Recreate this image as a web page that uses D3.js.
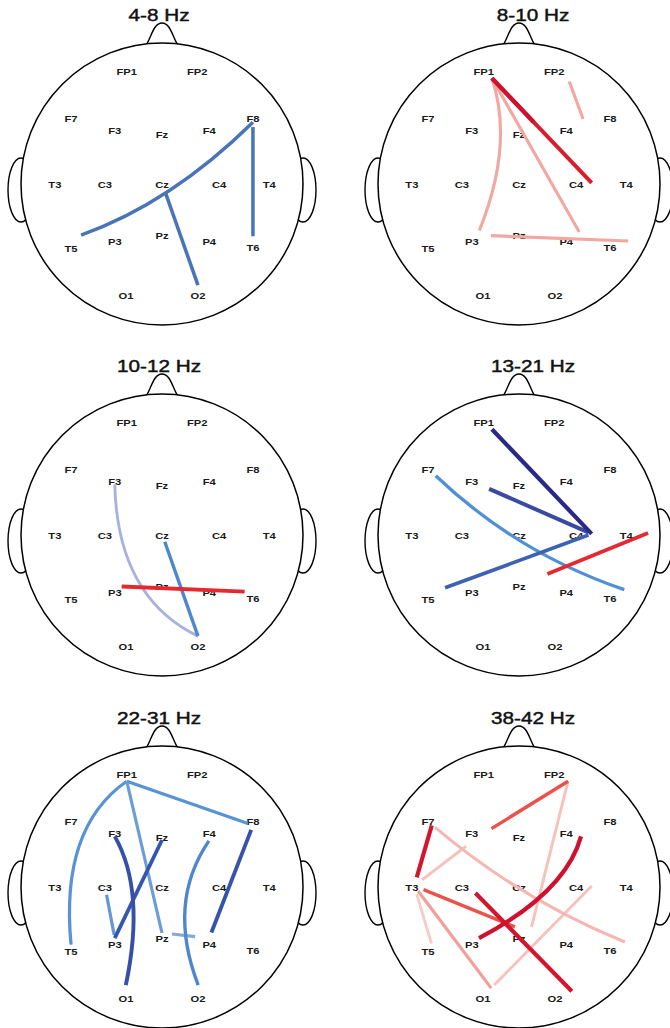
<!DOCTYPE html>
<html>
<head>
<meta charset="utf-8">
<script src="https://cdn.jsdelivr.net/npm/d3@7"></script>
<style>
  body { margin: 0; background: #fff; }
  svg { display: block; font-family: "Liberation Sans", Arial, sans-serif; }
</style>
</head>
<body>
<svg id="chart" width="670" height="1028"></svg>
<script>
// frequency bands, one head map each
const bands = ["4-8 Hz", "8-10 Hz", "10-12 Hz", "13-21 Hz", "22-31 Hz", "38-42 Hz"];

// 10-20 electrodes, in head-radius units (0,0 = centre of head)
const electrodes = ["FP1", "FP2", "F7", "F3", "Fz", "F4", "F8", "T3", "C3", "Cz", "C4", "T4", "T5", "P3", "Pz", "P4", "T6", "O1", "O2"];
const elecX = [-0.25, 0.25, -0.645, -0.335, 0, 0.335, 0.645, -0.76, -0.405, 0, 0.405, 0.76, -0.645, -0.335, 0, 0.335, 0.645, -0.255, 0.255];
const elecY = [-0.80, -0.80, -0.46, -0.375, -0.347, -0.375, -0.46, 0.007, 0.007, 0.007, 0.007, 0.007, 0.46, 0.41, 0.37, 0.41, 0.455, 0.795, 0.795];

// connections: [from, to, value]  (value < 0 blue, > 0 red)
const links_4_8 = [["T5", "F8", -0.55], ["F8", "T6", -0.55], ["Cz", "O2", -0.55]];
const links_8_10 = [["FP1", "P3", 0.3], ["FP1", "P4", 0.3], ["FP2", "T6", 0.3], ["P3", "T6", 0.3], ["FP1", "C4", 0.85], ["FP1", "C4", 1.0]];
const links_10_12 = [["F3", "O2", -0.1], ["Cz", "O2", -0.45], ["P3", "T6", 0.75]];
const links_13_21 = [["F7", "T6", -0.4], ["T5", "C4", -0.65], ["F3", "C4", -0.85], ["FP1", "C4", -1], ["Pz", "T4", 0.75]];
const links_22_31 = [["FP1", "F8", -0.38], ["FP1", "T5", -0.38], ["FP1", "Pz", -0.32], ["C3", "P3", -0.35], ["Pz", "P4", -0.25],
                     ["F4", "O2", -0.45], ["Fz", "P3", -0.72], ["F3", "O1", -0.8], ["F8", "P4", -0.75]];
const links_38_42 = [["T3", "T5", 0.1], ["FP2", "Pz", 0.15], ["T3", "F3", 0.15], ["O1", "C4", 0.15], ["F7", "T6", 0.2], ["T3", "O1", 0.35],
                     ["FP2", "F3", 0.5], ["T3", "Pz", 0.5], ["F7", "T3", 0.95], ["C3", "O2", 0.95], ["P3", "F4", 1.0]];
const linkSets = [links_4_8, links_8_10, links_10_12, links_13_21, links_22_31, links_38_42];

// how each line is drawn: t = part of the chord that is drawn, bend = bow (fraction of length)
const shapes = {
  "4-8 Hz": { "T5-F8": { t: [0.055, 1], bend: 0.055, at: 0.45 }, "F8-T6": { t: [0.04, 0.96] }, "Cz-O2": { t: [0.1, 1] } },
  "8-10 Hz": { "FP1-P3": { t: [0, 0.97], bend: -0.09, at: 0.42 }, "FP1-P4": { t: [0, 0.98] }, "FP2-T6": { t: [0.02, 0.25] },
               "P3-T6": { t: [0.08, 1] }, "FP1-C4#2": { t: [0, 0.42] } },
  "10-12 Hz": { "F3-O2": { bend: 0.15, at: 0.58 }, "Cz-O2": { t: [0.077, 1] }, "P3-T6": { t: [0.05, 0.94] } },
  "13-21 Hz": { "F7-T6": { t: [0.02, 0.98], bend: 0.055 }, "T5-C4": { t: [0.083, 0.98] }, "F3-C4": { t: [0.09, 0.97] }, "Pz-T4": { t: [0.15, 1.02] } },
  "22-31 Hz": { "FP1-F8": { t: [0, 0.96] }, "FP1-T5": { bend: 0.14, at: 0.38 }, "C3-P3": { t: [0.17, 0.94] }, "Pz-P4": { t: [0.21, 0.7] },
                "F4-O2": { t: [0.03, 0.98], bend: 0.13, at: 0.45 }, "F3-O1": { t: [0, 0.98], bend: -0.09, at: 0.38 }, "F8-P4": { t: [0.04, 0.95] } },
  "38-42 Hz": { "FP2-F3": { t: [0, 0.86] }, "FP2-Pz": { t: [0, 0.96] }, "F7-T3": { t: [0, 0.86] }, "F7-T6": { t: [0.017, 0.983], bend: 0.04 },
                "T3-F3": { t: [0.12, 0.8] }, "T3-Pz": { t: [0.08, 0.87] }, "C3-O2": { t: [0.07, 1.03] }, "P3-F4": { bend: 0.1, at: 0.65 },
                "T3-T5": { t: [0.14, 0.98] }, "T3-O1": { t: [0.05, 1] }, "O1-C4": { t: [0.03, 1] } }
};

// layout
const R = 141;
const colX = [162, 519], rowY = [184, 535, 887];
const titleDX = [-3, 14];
// line nodes sit a bit inside the labels; the right column was pasted a little wider
const nodeSX = [1, 1.08], nodeDX = [0, 11];
const nodeSY = 0.92, nodeDY = -2;

const svg = d3.select("#chart");

const colour = d3.scaleLinear()
  .domain([-1, -0.85, -0.72, -0.55, -0.4, -0.25, -0.1, 0.1, 0.2, 0.35, 0.5, 0.75, 0.85, 1])
  .range(["#2b2985", "#3a4aa2", "#3556ae", "#4a74b8", "#5090d4", "#86a8d8", "#a9b2dc",
          "#f7ccc4", "#f4b8b0", "#f0a098", "#e8544c", "#e42a30", "#d81e2c", "#d0102e"]);
const lineWidth = d3.scaleLinear().domain([0, 1]).range([2.7, 4.2]);

const pos = {};
electrodes.forEach((e, i) => { pos[e] = [elecX[i], elecY[i]]; });

bands.forEach((band, i) => {
  const col = i % 2, row = Math.floor(i / 2);
  const cx = colX[col], cy = rowY[row];
  const x = d3.scaleLinear().domain([-1, 1]).range([cx - R, cx + R]);
  const y = d3.scaleLinear().domain([-1, 1]).range([cy - R, cy + R]);
  const nx = d3.scaleLinear().domain([-1, 1])
    .range([cx + nodeDX[col] - R * nodeSX[col], cx + nodeDX[col] + R * nodeSX[col]]);
  const ny = d3.scaleLinear().domain([-1, 1])
    .range([cy + nodeDY - R * nodeSY, cy + nodeDY + R * nodeSY]);

  const g = svg.append("g").attr("class", "head");
  const top = cy - R;

  // ears
  g.selectAll("ellipse")
    .data([-1, 1])
    .enter()
    .append("ellipse")
    .attr("cx", (s) => cx + s * R)
    .attr("cy", cy + 6)
    .attr("rx", 13)
    .attr("ry", 32)
    .attr("fill", "#fff")
    .attr("stroke", "#000")
    .attr("stroke-width", 1.4);

  // nose
  const nose = d3.path();
  nose.moveTo(cx - 16, top + 2);
  nose.bezierCurveTo(cx - 11, top - 4, cx - 9, top - 20, cx, top - 20);
  nose.bezierCurveTo(cx + 9, top - 20, cx + 11, top - 4, cx + 16, top + 2);
  g.append("path")
    .attr("d", nose.toString())
    .attr("fill", "#fff")
    .attr("stroke", "#000")
    .attr("stroke-width", 1.4);

  g.append("circle")
    .attr("cx", cx)
    .attr("cy", cy)
    .attr("r", R)
    .attr("fill", "#fff")
    .attr("stroke", "#000")
    .attr("stroke-width", 1.5);

  g.append("text")
    .attr("transform", "translate(" + (cx + titleDX[col]) + "," + (top - 22) + ") scale(1.22,1)")
    .attr("text-anchor", "middle")
    .attr("font-size", 17)
    .attr("fill", "#111")
    .attr("stroke", "#111")
    .attr("stroke-width", 0.45)
    .text(band);

  // electrode labels
  g.selectAll("text.el")
    .data(electrodes)
    .enter()
    .append("text")
    .attr("class", "el")
    .attr("transform", (e) => "translate(" + x(pos[e][0]) + "," + y(pos[e][1]) + ") scale(1.18,1)")
    .attr("dy", "0.35em")
    .attr("text-anchor", "middle")
    .attr("font-size", 9.5)
    .attr("font-weight", "bold")
    .attr("fill", "#1a1a1a")
    .text((e) => e);

  // connections
  const shp = shapes[band] || {};
  const seen = {};
  const keys = linkSets[i].map((l) => {
    let k = l[0] + "-" + l[1];
    seen[k] = (seen[k] || 0) + 1;
    return seen[k] > 1 ? k + "#" + seen[k] : k;
  });

  g.selectAll("path.link")
    .data(linkSets[i])
    .enter()
    .append("path")
    .attr("class", "link")
    .attr("d", (l, j) => {
      const s = shp[keys[j]] || {};
      const a = [nx(pos[l[0]][0]), ny(pos[l[0]][1])];
      const b = [nx(pos[l[1]][0]), ny(pos[l[1]][1])];
      const t = s.t || [0, 1];
      const dx = b[0] - a[0], dy = b[1] - a[1];
      const p0 = [a[0] + t[0] * dx, a[1] + t[0] * dy];
      const p1 = [a[0] + t[1] * dx, a[1] + t[1] * dy];
      const p = d3.path();
      p.moveTo(p0[0], p0[1]);
      if (s.bend) {
        const len = Math.hypot(p1[0] - p0[0], p1[1] - p0[1]);
        const ux = (p1[0] - p0[0]) / len, uy = (p1[1] - p0[1]) / len;
        const at = s.at == null ? 0.5 : s.at;
        const mx = p0[0] + (p1[0] - p0[0]) * at, my = p0[1] + (p1[1] - p0[1]) * at;
        const k = 2 * s.bend * len;
        p.quadraticCurveTo(mx - uy * k, my + ux * k, p1[0], p1[1]);
      } else {
        p.lineTo(p1[0], p1[1]);
      }
      return p.toString();
    })
    .attr("fill", "none")
    .attr("stroke", (l) => colour(l[2]))
    .attr("stroke-width", (l) => lineWidth(Math.abs(l[2])));
});
</script>
</body>
</html>
